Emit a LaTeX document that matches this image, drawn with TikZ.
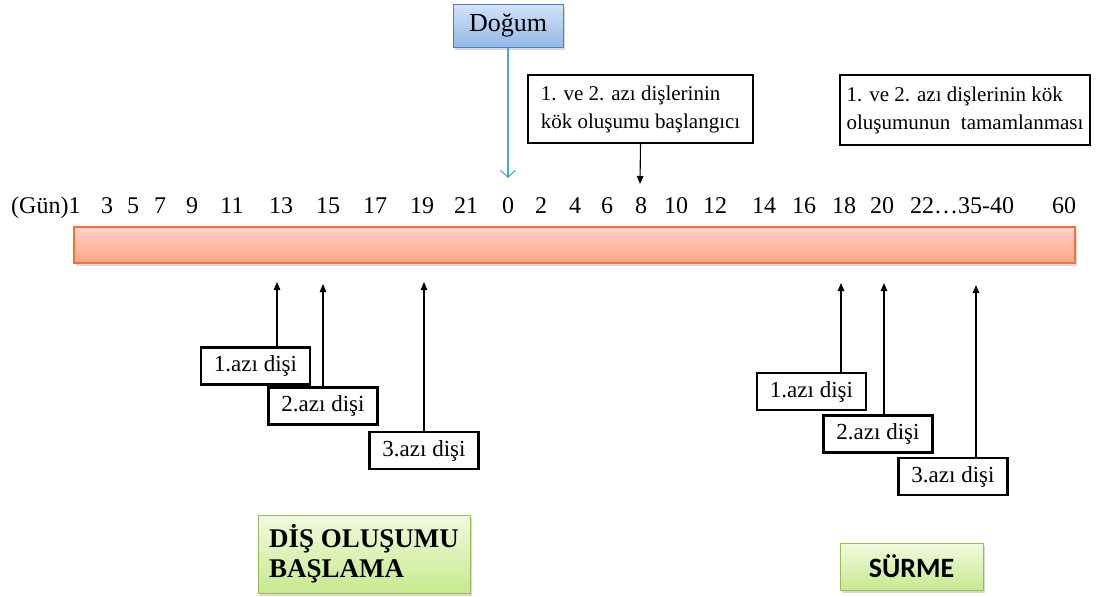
\documentclass[tikz,border=0pt]{standalone}
\usepackage{fontspec}
\setmainfont{Liberation Serif}
\newfontfamily\carlito{Carlito}
\usetikzlibrary{arrows.meta,shadows}
\definecolor{dogtop}{HTML}{D3E3F8}
\definecolor{dogbot}{HTML}{93B8E6}
\definecolor{dogline}{HTML}{4F81BD}
\definecolor{cyanarr}{HTML}{4BACC6}
\definecolor{bartop}{HTML}{FFD3C8}
\definecolor{barbot}{HTML}{FCA385}
\definecolor{barline}{HTML}{EE7436}
\definecolor{grtop}{HTML}{F2FADF}
\definecolor{grbot}{HTML}{C6EA8E}
\definecolor{grline}{HTML}{9BBB59}
\begin{document}
\begin{tikzpicture}[x=1pt,y=-1pt,
  num/.style={anchor=base, inner sep=0pt, font=\fontsize{24}{28}\selectfont},
  smallbox/.style={draw=black, line width=2.3pt, minimum width=109pt, minimum height=37pt, inner sep=0pt, font=\fontsize{23}{26}\selectfont},
  topbox/.style={draw=black, line width=2.4pt, align=left, inner sep=0pt, font=\fontsize{21}{28}\selectfont},
  uparr/.style={-{Triangle[length=8pt,width=6.5pt]}, line width=1.1pt},
  softshadow/.style={drop shadow={opacity=0.3, shadow xshift=2pt, shadow yshift=-3pt}}
]
\useasboundingbox (0,0) rectangle (1098,597);

% Dogum
\node[draw=dogline, line width=1pt, top color=dogtop, bottom color=dogbot, softshadow,
      minimum width=110pt, minimum height=43pt, inner sep=0pt,
      font=\fontsize{26}{28}\selectfont] (dog) at (508,25.5) {Doğum};

% top boxes
\node[topbox, minimum width=225pt, minimum height=68pt] (kb) at (640.5,109)
  {1. ve 2. azı dişlerinin\\kök oluşumu başlangıcı};
\node[topbox, minimum width=250pt, minimum height=70pt] (kt) at (965,110)
  {1. ve 2. azı dişlerinin kök\\oluşumunun\ \ tamamlanması};

% numbers
\node[num, anchor=base west] (n1) at (11,213) {(Gün)1};
\foreach \xx/\lab/\nm in {107/3/n3, 133/5/n5, 160/7/n7, 192/9/n9, 232/11/n11,
  281/13/n13, 328/15/n15, 375/17/n17, 422/19/n19, 466/21/n21, 508/0/nz,
  541/2/m2, 575/4/m4, 607/6/m6, 641/8/m8, 676/10/m10, 715/12/m12, 764/14/m14,
  804/16/m16, 844/18/m18, 882/20/m20, 1064/60/m60}
  \node[num] (\nm) at (\xx,213) {\lab};
\node[num] (m22) at (962,213) {22…35-40};

% bar
\node[draw=barline, line width=1.4pt, top color=bartop, bottom color=barbot, softshadow,
      minimum width=1001pt, minimum height=36pt, inner sep=0pt] (bar) at (574.5,245) {};

% arrows from top
\coordinate (dz) at (508,178);
\draw[cyanarr, line width=1.1pt, -{Straight Barb[length=7pt,width=15pt]}] (dog.south) -- (dz);
\coordinate (d8) at (640,184);
\draw[uparr] (kb.south) -- (d8);

% left boxes
\node[smallbox] (l1) at (255.5,366) {1.azı dişi};
\node[smallbox] (l2) at (323,406) {2.azı dişi};
\node[smallbox] (l3) at (424,450.5) {3.azı dişi};
\coordinate (lt1) at (277,282);
\coordinate (lt2) at (323,284);
\coordinate (lt3) at (424,282);
\draw[uparr] (l1.north -| lt1) -- (lt1);
\draw[uparr] (l2.north) -- (lt2);
\draw[uparr] (l3.north) -- (lt3);

% right boxes
\node[smallbox] (r1) at (811.5,391.5) {1.azı dişi};
\node[smallbox] (r2) at (878,434) {2.azı dişi};
\node[smallbox] (r3) at (953,476.5) {3.azı dişi};
\coordinate (rt1) at (841,283);
\coordinate (rt2) at (884,283);
\coordinate (rt3) at (976,285);
\draw[uparr] (r1.north -| rt1) -- (rt1);
\draw[uparr] (r2.north -| rt2) -- (rt2);
\draw[uparr] (r3.north -| rt3) -- (rt3);

% green boxes
\node[draw=grline, line width=1pt, top color=grtop, bottom color=grbot, softshadow,
      minimum width=212pt, minimum height=78pt, inner sep=0pt, align=left,
      font=\fontsize{27}{30}\selectfont\bfseries] (gb) at (364,554)
  {DİŞ OLUŞUMU\\BAŞLAMA};
\node[draw=grline, line width=1pt, top color=grtop, bottom color=grbot, softshadow,
      minimum width=143pt, minimum height=47pt, inner sep=0pt,
      font=\carlito\fontsize{28}{30}\selectfont\bfseries] (sb) at (911.5,566.5) {SÜRME};
\end{tikzpicture}
\end{document}
